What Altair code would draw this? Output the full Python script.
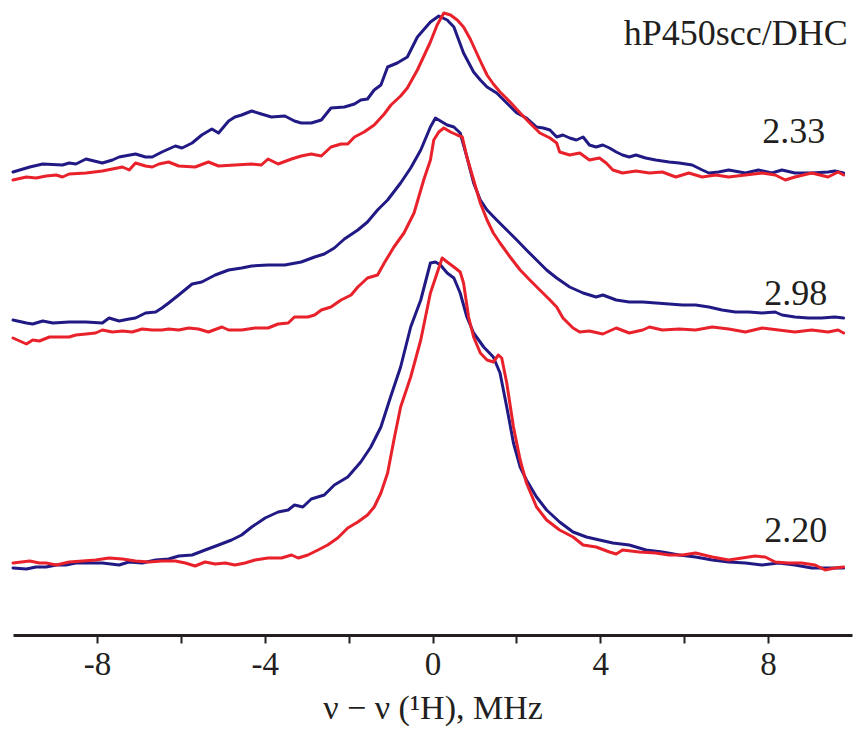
import altair as alt
import pandas as pd

# ---- data (nu in MHz, intensity in arbitrary units) ----
top_blue_nu = [-10.0,-9.60,-9.29,-8.82,-8.66,-8.50,-8.26,-7.87,-7.63,-7.47,-7.08,-6.84,-6.68,-6.45,-6.13,-5.97,-5.73,-5.50,-5.26,-5.10,-4.86,-4.71,-4.55,-4.31,-4.08,-3.84,-3.52,-3.29,-3.13,-2.89,-2.65,-2.42,-2.10,-1.86,-1.71,-1.55,-1.39,-1.23,-1.07,-0.84,-0.60,-0.36,-0.05,
               0.15,0.35,0.51,0.74,0.98,1.14,1.30,1.53,1.77,2.01,2.24,2.48,2.64,2.80,2.96,3.11,3.27,3.43,3.59,3.74,3.90,4.06,4.22,4.38,4.53,4.69,4.85,5.08,5.32,5.64,5.88,6.19,6.43,6.59,6.82,7.06,7.46,7.77,8.09,8.33,8.64,9.04,9.43,9.59,9.80]
top_blue_int = [461,466,469,468,470,469,474,470,473,476,479,476,476,481,487,485,490,498,504,500,512,516,518,522,519,516,517,512,510,510,513,525,526,529,533,534,543,548,566,570,576,596,611,
                617,613,606,580,561,553,546,540,530,520,515,506,505,503,496,498,495,493,496,488,486,488,485,481,478,476,478,475,473,471,470,468,463,460,461,463,460,463,460,463,460,460,461,462,460]

top_red_nu = [-10.0,-9.68,-9.45,-9.21,-8.97,-8.82,-8.66,-8.26,-7.87,-7.63,-7.39,-7.23,-7.08,-6.84,-6.68,-6.52,-6.29,-6.05,-5.66,-5.34,-5.10,-4.71,-4.31,-4.08,-3.92,-3.68,-3.36,-3.13,-2.89,-2.65,-2.42,-2.18,-2.02,-1.86,-1.63,-1.39,-1.15,-0.99,-0.76,-0.60,-0.36,-0.05,
              0.11,0.27,0.43,0.59,0.74,0.90,1.14,1.30,1.45,1.61,1.85,2.09,2.32,2.56,2.80,2.96,3.03,3.27,3.51,3.74,3.98,4.14,4.30,4.53,4.85,5.17,5.48,5.80,6.11,6.43,6.75,7.06,7.46,7.86,8.17,8.41,8.64,9.04,9.43,9.67,9.80]
top_red_int = [453,456,455,457,458,456,459,460,462,464,466,463,470,467,466,469,471,467,466,471,467,468,469,468,474,469,474,477,479,477,486,489,489,496,501,508,519,528,537,545,563,591,
               608,620,618,613,606,594,572,558,549,541,531,520,510,500,495,490,481,478,480,473,475,470,463,460,462,460,461,456,460,456,458,456,458,460,458,453,456,460,456,461,458]

mid_blue_nu = [-10.0,-9.68,-9.53,-9.29,-9.05,-8.66,-8.26,-7.87,-7.71,-7.47,-7.23,-7.08,-6.84,-6.60,-6.45,-6.29,-6.05,-5.73,-5.50,-5.18,-4.86,-4.55,-4.31,-3.92,-3.52,-3.13,-2.81,-2.58,-2.34,-2.10,-1.78,-1.55,-1.31,-1.07,-0.76,-0.52,-0.28,-0.05,
               0.07,0.19,0.35,0.51,0.66,0.82,0.98,1.14,1.30,1.53,1.77,2.01,2.24,2.48,2.72,2.96,3.27,3.59,3.90,4.06,4.38,4.69,5.01,5.33,5.64,5.96,6.27,6.59,6.90,7.22,7.54,7.85,8.17,8.33,8.64,8.96,9.27,9.59,9.80]
mid_blue_int = [313,310,309,312,310,311,311,310,315,312,314,315,320,321,325,330,338,349,351,358,363,365,367,368,368,371,376,379,385,394,403,411,423,433,450,465,483,506,
                515,512,508,506,500,476,450,433,423,413,403,393,383,373,363,355,346,340,336,338,333,331,331,330,329,328,328,326,323,321,321,320,321,318,316,315,315,316,315]

mid_red_nu = [-10.0,-9.68,-9.53,-9.37,-9.13,-8.90,-8.66,-8.50,-8.26,-8.03,-7.87,-7.63,-7.39,-7.16,-6.92,-6.68,-6.45,-6.29,-6.05,-5.81,-5.58,-5.34,-5.02,-4.86,-4.55,-4.23,-3.92,-3.68,-3.44,-3.29,-2.97,-2.81,-2.65,-2.42,-2.18,-1.94,-1.78,-1.55,-1.31,-1.15,-0.92,-0.68,-0.44,-0.21,-0.05,
              0.03,0.15,0.27,0.43,0.59,0.71,0.82,0.98,1.14,1.30,1.45,1.61,1.85,2.09,2.32,2.56,2.80,2.96,3.11,3.35,3.51,3.74,4.06,4.38,4.69,5.01,5.17,5.48,5.88,6.27,6.67,7.06,7.46,7.86,8.25,8.64,9.04,9.43,9.67,9.80]
mid_red_int = [295,289,293,292,296,296,296,298,299,300,303,301,302,301,304,303,303,304,303,305,304,301,306,303,303,305,305,309,310,316,316,318,323,326,333,338,346,355,358,370,386,400,420,453,473,
               493,501,505,501,498,496,476,453,430,413,400,390,376,363,353,343,333,326,315,305,301,302,299,305,300,303,306,303,304,303,306,304,301,305,303,301,303,301,303,300]

bot_blue_nu = [-10.0,-9.68,-9.45,-9.21,-8.97,-8.74,-8.50,-8.18,-7.87,-7.47,-7.24,-6.92,-6.60,-6.29,-6.05,-5.73,-5.42,-5.10,-4.79,-4.55,-4.31,-3.99,-3.68,-3.44,-3.29,-3.09,-2.89,-2.58,-2.34,-2.02,-1.71,-1.47,-1.23,-1.00,-0.76,-0.52,-0.28,-0.05,
               0.07,0.19,0.35,0.51,0.66,0.82,0.98,1.22,1.45,1.61,1.77,1.93,2.09,2.24,2.48,2.72,3.03,3.35,3.67,3.98,4.30,4.69,5.09,5.48,5.88,6.27,6.67,7.06,7.46,7.85,8.25,8.64,9.04,9.27,9.59,9.80]
bot_blue_int = [65,64,66,66,68,68,70,70,70,68,71,70,73,74,77,78,83,88,93,98,106,115,121,123,128,126,134,138,148,156,171,186,206,236,266,306,333,370,
                371,368,360,355,340,316,300,286,276,260,226,190,166,153,136,123,111,101,96,93,90,88,83,81,78,76,73,71,70,68,70,68,65,65,65,65]

bot_red_nu = [-10.0,-9.60,-9.37,-9.21,-8.97,-8.66,-8.34,-8.03,-7.71,-7.39,-7.08,-6.76,-6.45,-6.13,-5.89,-5.66,-5.42,-5.18,-4.94,-4.71,-4.47,-4.23,-3.92,-3.60,-3.36,-3.20,-2.97,-2.73,-2.50,-2.26,-2.02,-1.78,-1.55,-1.39,-1.23,-1.07,-0.92,-0.76,-0.52,-0.28,-0.05,
              0.23,0.35,0.51,0.66,0.74,0.86,0.98,1.14,1.30,1.45,1.57,1.65,1.77,1.93,2.09,2.24,2.48,2.72,3.03,3.35,3.59,3.90,4.22,4.38,4.53,4.93,5.32,5.64,5.96,6.27,6.67,7.06,7.38,7.69,7.93,8.17,8.48,8.80,9.12,9.36,9.59,9.80]
bot_red_int = [70,72,70,70,68,71,72,73,75,74,72,71,72,72,70,67,71,69,70,68,70,73,75,75,78,75,78,83,88,95,105,111,118,126,140,160,193,226,256,293,340,
               375,371,366,361,350,316,296,280,273,271,278,275,250,206,173,150,126,113,103,96,88,86,81,79,83,81,80,78,78,80,76,73,75,77,76,71,70,70,68,63,65,66]

label_texts = ["hP450scc/DHC", "2.33", "2.98", "2.20"]
label_nu = [9.90, 9.36, 9.41, 9.41]
label_int = [588, 490, 328, 91]

BLUE = "#221a84"
RED = "#e8212b"
INK = "#231f20"

series = [
    ("top_blue", top_blue_nu, top_blue_int, "blue"),
    ("mid_blue", mid_blue_nu, mid_blue_int, "blue"),
    ("bot_blue", bot_blue_nu, bot_blue_int, "blue"),
    ("top_red", top_red_nu, top_red_int, "red"),
    ("mid_red", mid_red_nu, mid_red_int, "red"),
    ("bot_red", bot_red_nu, bot_red_int, "red"),
]
rows = []
for name, xs, ys, col in series:
    assert len(xs) == len(ys), name
    for i, (a, b) in enumerate(zip(xs, ys)):
        rows.append({"curve": name, "nu": a, "I": b, "col": col, "k": i})
df = pd.DataFrame(rows)
labels = pd.DataFrame({"label": label_texts, "nu": label_nu, "I": label_int})

xscale = alt.Scale(domain=[-10, 10], nice=False, zero=False)
yscale = alt.Scale(domain=[-2, 633], nice=False, zero=False)

xaxis = alt.Axis(
    values=[-8, -6, -4, -2, 0, 2, 4, 6, 8],
    labelExpr="datum.value % 4 == 0 ? '' + datum.value : ''",
    grid=False,
    domainColor=INK, domainWidth=3,
    tickColor=INK, tickWidth=2, tickSize=8,
    labelFont="Liberation Serif", labelFontSize=33, labelColor=INK, labelPadding=5,
    title="ν − ν (¹H), MHz",
    titleFont="Liberation Serif", titleFontSize=34, titleFontWeight="normal",
    titleColor=INK, titlePadding=10,
)

def lines(col, color):
    return alt.Chart(df[df["col"] == col]).mark_line(
        strokeWidth=3, strokeJoin="round", strokeCap="round", color=color
    ).encode(
        x=alt.X("nu:Q", scale=xscale, axis=xaxis),
        y=alt.Y("I:Q", scale=yscale, axis=None),
        detail="curve:N",
        order="k:Q",
    )

text = alt.Chart(labels).mark_text(
    align="right", baseline="alphabetic", font="Liberation Serif",
    fontSize=36, color=INK
).encode(
    x=alt.X("nu:Q", scale=xscale),
    y=alt.Y("I:Q", scale=yscale),
    text="label:N",
)

chart = alt.layer(lines("blue", BLUE), lines("red", RED), text).properties(
    width=839, height=635,
    autosize=alt.AutoSizeParams(type="none"),
    padding={"left": 13, "top": 0, "right": 4, "bottom": 100},
    background="white",
).configure_view(stroke=None)

chart.save("out.html", embed_options={"renderer": "svg", "actions": False})
